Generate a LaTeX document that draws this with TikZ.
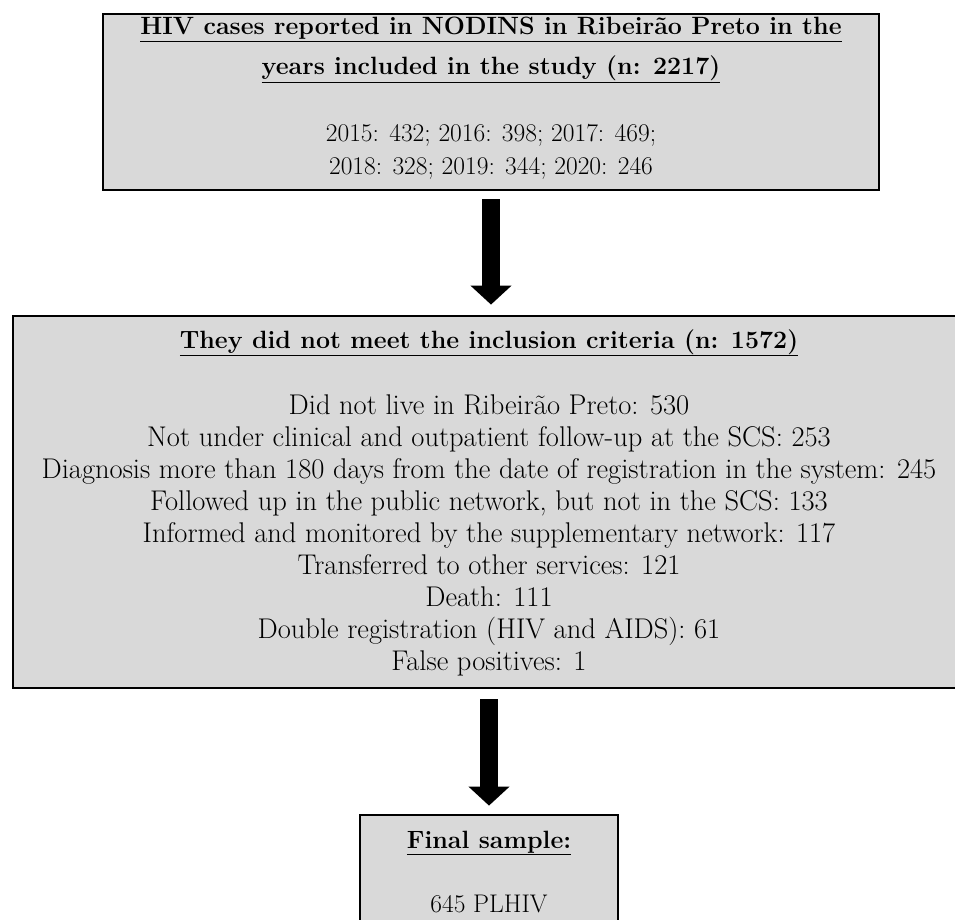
\documentclass[tikz,border=0pt]{standalone}
\usepackage{tikz}
\usetikzlibrary{arrows.meta,positioning}
\definecolor{boxgray}{HTML}{D9D9D9}

\begin{document}
\begin{tikzpicture}[
  x=1pt, y=-1pt,
  flowbox/.style={draw, line width=2.8pt, fill=boxgray, rectangle, inner sep=0pt},
  txt/.style={font=\fontsize{28.5}{32}\selectfont, anchor=base, inner sep=0pt},
  numtxt/.style={txt, font=\fontsize{25.5}{32}\selectfont},
  head/.style={txt, font=\fontsize{25}{30}\selectfont\bfseries},
  fatarrow/.style={line width=18pt, -{Triangle[width=40pt,length=19pt]}},
]
  \useasboundingbox (0,0) rectangle (955,920);

  % Boxes
  \node[flowbox, minimum width=776pt, minimum height=176pt] (years) at (491,102) {};
  \node[flowbox, minimum width=952pt, minimum height=372pt] (excluded) at (489,502) {};
  \node[flowbox, minimum width=258pt, minimum height=150pt] (final) at (489,890) {};

  % Cases reported
  \node[head] (t1) at (491,35) {\underline{HIV cases reported in NODINS in Ribeirão Preto in the}};
  \node[head] (t2) at (491,75) {\underline{years included in the study (n: 2217)}};
  \node[numtxt] (y1) at (491,142) {2015: 432; 2016: 398; 2017: 469;};
  \node[numtxt] (y2) at (491,175) {2018: 328; 2019: 344; 2020: 246};

  % Exclusions
  \node[head] (ex) at (489,348) {\underline{They did not meet the inclusion criteria (n: 1572)}};
  \foreach \i/\reason in {
    0/{Did not live in Ribeirão Preto: 530},
    1/{Not under clinical and outpatient follow-up at the SCS: 253},
    2/{Diagnosis more than 180 days from the date of registration in the system: 245},
    3/{Followed up in the public network, but not in the SCS: 133},
    4/{Informed and monitored by the supplementary network: 117},
    5/{Transferred to other services: 121},
    6/{Death: 111},
    7/{Double registration (HIV and AIDS): 61},
    8/{False positives: 1}} {
    \node[txt] (r\i) at (489,414+32.1*\i) {\reason};
  }

  % Final sample
  \node[head] (fs) at (489,848) {\underline{Final sample:}};
  \node[numtxt] (fn) at (489,912) {645 PLHIV};

  % Arrows
  \draw[fatarrow, shorten <=8pt, shorten >=10pt] (years.south) -- (years.south |- excluded.north);
  \draw[fatarrow, shorten <=10pt, shorten >=8pt] (excluded.south) -- (final.north);
\end{tikzpicture}
\end{document}
